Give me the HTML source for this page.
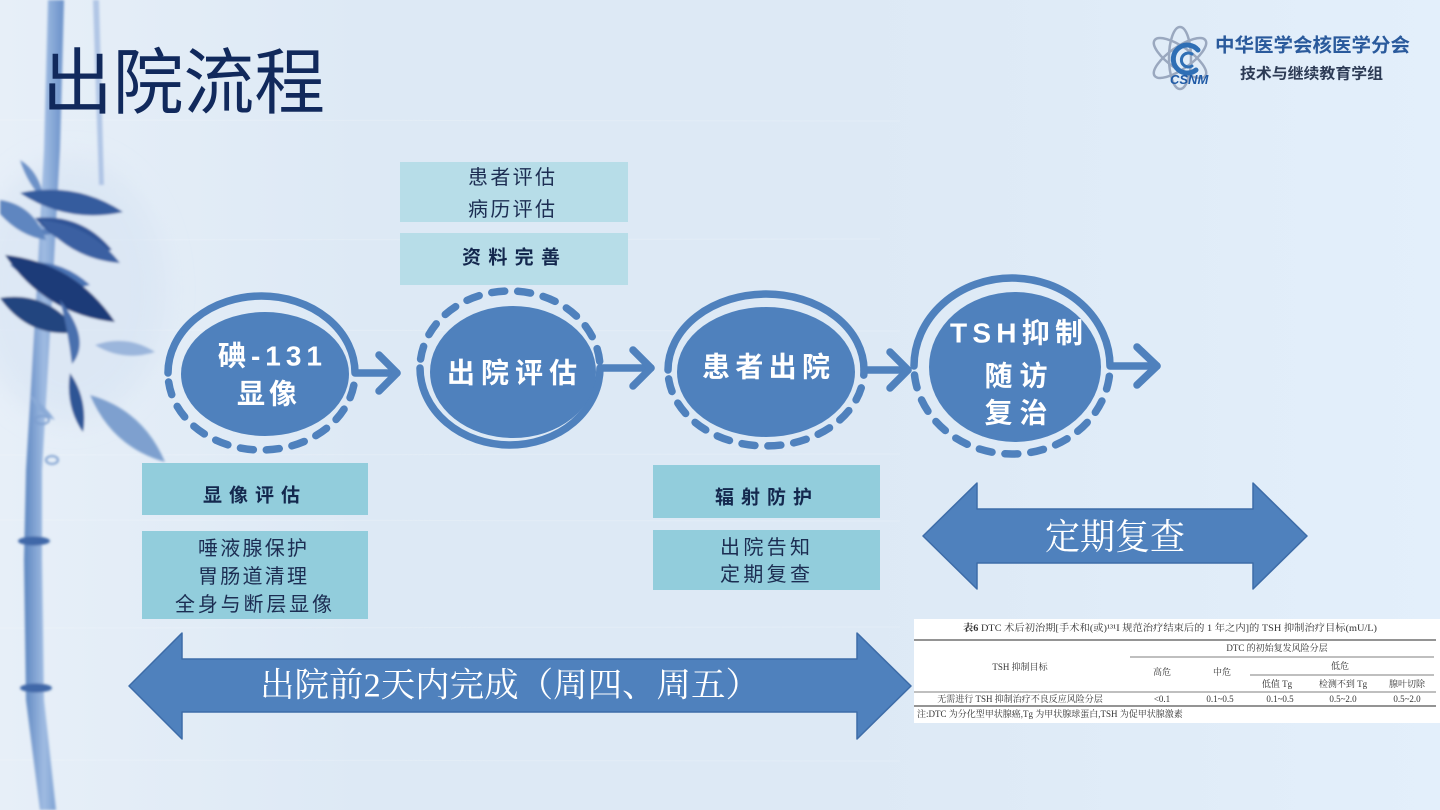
<!DOCTYPE html>
<html lang="zh">
<head>
<meta charset="utf-8">
<title>出院流程</title>
<style>
  html,body{margin:0;padding:0;width:1440px;height:810px;overflow:hidden;background:#e0ecf8;}
  svg{display:block;}
  .sans{font-family:"Liberation Sans","Noto Sans CJK SC",sans-serif;}
  .serif{font-family:"Liberation Serif","Noto Serif CJK SC",serif;}
</style>
</head>
<body>
<svg width="1440" height="810" viewBox="0 0 1440 810" xmlns="http://www.w3.org/2000/svg">
  <defs>
    <linearGradient id="bg" x1="0" y1="0" x2="1" y2="0">
      <stop offset="0" stop-color="#e7eff8"/>
      <stop offset="0.25" stop-color="#dde9f5"/>
      <stop offset="0.6" stop-color="#dde9f5"/>
      <stop offset="1" stop-color="#e3effb"/>
    </linearGradient>
    <linearGradient id="stem" x1="0" y1="0" x2="1" y2="0">
      <stop offset="0" stop-color="#5d86c0"/>
      <stop offset="0.5" stop-color="#9fbbe2"/>
      <stop offset="1" stop-color="#6a91c9"/>
    </linearGradient>
    <filter id="blur1" x="-20%" y="-20%" width="140%" height="140%">
      <feGaussianBlur stdDeviation="1.2"/>
    </filter>
    <filter id="blur8" x="-50%" y="-50%" width="200%" height="200%">
      <feGaussianBlur stdDeviation="14"/>
    </filter>
  </defs>

  <!-- background -->
  <rect x="0" y="0" width="1440" height="810" fill="url(#bg)"/>
  <g opacity="0.18" stroke="#ffffff" stroke-width="1">
    <line x1="0" y1="120" x2="900" y2="121"/>
    <line x1="0" y1="240" x2="880" y2="239"/>
    <line x1="0" y1="330" x2="900" y2="331"/>
    <line x1="0" y1="455" x2="900" y2="454"/>
    <line x1="0" y1="520" x2="900" y2="521"/>
    <line x1="0" y1="628" x2="900" y2="627"/>
    <line x1="0" y1="760" x2="900" y2="761"/>
  </g>

  <!-- bamboo -->
  <g filter="url(#blur1)">
    <ellipse cx="70" cy="290" rx="95" ry="130" fill="#d3e1f2" opacity="0.5" filter="url(#blur8)"/>
    <path d="M93,0 L99,0 L104,185 L99,185 Z" fill="#9bb5de" opacity="0.7"/>
    <path d="M48,0 L64,0 L60,150 L52,300 L42,470 L42,560 L44,700 L56,810 L40,810 L26,700 L24,560 L26,470 L36,300 L44,150 Z" fill="url(#stem)"/>
    <ellipse cx="34" cy="541" rx="16" ry="4.5" fill="#3f68a8"/>
    <ellipse cx="36" cy="688" rx="16" ry="4.5" fill="#3f68a8"/>
    <ellipse cx="42" cy="232" rx="12" ry="3" fill="#5a80bb"/>
    <!-- leaves -->
    <path d="M0,200 Q34,205 46,240 Q20,236 0,214 Z" fill="#5f86c0"/>
    <path d="M20,160 Q40,172 44,200 Q28,185 20,160 Z" fill="#6d92c8"/>
    <path d="M20,193 Q67.5,224 123,212 Q75.5,181 20,193 Z" fill="#355c9e"/>
    <path d="M35,218 Q64.9,254.5 112,250 Q82.1,213.5 35,218 Z" fill="#2d5396"/>
    <path d="M40,220 Q70.6,259.1 120,263 Q89.4,223.9 40,220 Z" fill="#3a61a2"/>
    <path d="M10,265 Q44.7,296.3 90,285 Q55.3,253.7 10,265 Z" fill="#4a72b2"/>
    <path d="M5,255 Q44.7,314.3 115,322 Q75.3,262.7 5,255 Z" fill="#1c3a78"/>
    <path d="M0,298 Q29.4,339.2 78,332 Q48.6,290.8 0,298 Z" fill="#24457f"/>
    <path d="M60,300 Q92,340 72,364 Q68,330 60,300 Z" fill="#4a70ae"/>
    <path d="M95,345 Q123,362 155,352 Q127,334 95,345 Z" fill="#9bb6dc"/>
    <path d="M70,373 Q65,406 83,432 Q88,399 70,373 Z" fill="#2f5595"/>
    <path d="M90,395 Q112,447 165,462 Q143,410 90,395 Z" fill="#7ea0cf"/>
    <path d="M30,395 Q45,405 55,420 Q38,415 30,395 Z" fill="#8aaad7"/>
    <ellipse cx="42" cy="420" rx="7" ry="4" fill="none" stroke="#7d9fcf" stroke-width="2"/>
    <ellipse cx="52" cy="460" rx="6" ry="4" fill="none" stroke="#7d9fcf" stroke-width="2"/>
  </g>

  <!-- title -->
  <text x="183.5" y="84" text-anchor="middle" dominant-baseline="central" class="sans" font-size="72" fill="#11295c" textLength="283" lengthAdjust="spacingAndGlyphs">出院流程</text>

  <!-- logo -->
  <g fill="none" stroke="#9aa8bf" stroke-width="2.5">
    <ellipse cx="1180" cy="58" rx="31" ry="11" transform="rotate(35 1180 58)"/>
    <ellipse cx="1180" cy="58" rx="31" ry="11" transform="rotate(-35 1180 58)"/>
    <ellipse cx="1180" cy="58" rx="31" ry="11" transform="rotate(90 1180 58)"/>
  </g>
  <path d="M1198,50 A14,14 0 1 0 1196,70" fill="none" stroke="#2f6fb5" stroke-width="5" stroke-linecap="round"/>
  <path d="M1192,54 A7,7 0 1 0 1192,66" fill="none" stroke="#2f6fb5" stroke-width="3" stroke-linecap="round"/>
  <text x="1170" y="84" font-family="Liberation Sans, sans-serif" font-style="italic" font-weight="700" font-size="13" fill="#1f5aa6">CSNM</text>
  <text x="1312.5" y="46" text-anchor="middle" dominant-baseline="central" class="sans" font-weight="700" font-size="19" fill="#2a5a9c" textLength="195" lengthAdjust="spacingAndGlyphs">中华医学会核医学分会</text>
  <text x="1311.5" y="74" text-anchor="middle" dominant-baseline="central" class="sans" font-weight="700" font-size="15" fill="#2d3b55" textLength="143" lengthAdjust="spacingAndGlyphs">技术与继续教育学组</text>

  <!-- top boxes -->
  <rect x="400" y="162" width="228" height="60" fill="#b7dde8"/>
  <text x="511.5" y="178" text-anchor="middle" dominant-baseline="central" class="sans" font-size="20" fill="#1c2d52" textLength="87" lengthAdjust="spacing">患者评估</text>
  <text x="511.5" y="210" text-anchor="middle" dominant-baseline="central" class="sans" font-size="20" fill="#1c2d52" textLength="87" lengthAdjust="spacing">病历评估</text>
  <rect x="400" y="233" width="228" height="52" fill="#b7dde8"/>
  <text x="511" y="258" text-anchor="middle" dominant-baseline="central" class="sans" font-weight="700" font-size="19" fill="#14284e" textLength="98" lengthAdjust="spacing">资料完善</text>

  <!-- left boxes -->
  <rect x="142" y="463" width="226" height="52" fill="#92cddc"/>
  <text x="251.5" y="496" text-anchor="middle" dominant-baseline="central" class="sans" font-weight="700" font-size="19" fill="#14284e" textLength="97" lengthAdjust="spacing">显像评估</text>
  <rect x="142" y="531" width="226" height="88" fill="#92cddc"/>
  <text x="252.5" y="549" text-anchor="middle" dominant-baseline="central" class="sans" font-size="20" fill="#1c2d52" textLength="109" lengthAdjust="spacing">唾液腺保护</text>
  <text x="252.5" y="577" text-anchor="middle" dominant-baseline="central" class="sans" font-size="20" fill="#1c2d52" textLength="109" lengthAdjust="spacing">胃肠道清理</text>
  <text x="253.5" y="605" text-anchor="middle" dominant-baseline="central" class="sans" font-size="20" fill="#1c2d52" textLength="157" lengthAdjust="spacing">全身与断层显像</text>

  <!-- middle boxes -->
  <rect x="653" y="465" width="227" height="53" fill="#92cddc"/>
  <text x="763.5" y="498" text-anchor="middle" dominant-baseline="central" class="sans" font-weight="700" font-size="19" fill="#14284e" textLength="97" lengthAdjust="spacing">辐射防护</text>
  <rect x="653" y="530" width="227" height="60" fill="#92cddc"/>
  <text x="765" y="548" text-anchor="middle" dominant-baseline="central" class="sans" font-size="20" fill="#1c2d52" textLength="90" lengthAdjust="spacing">出院告知</text>
  <text x="765" y="575" text-anchor="middle" dominant-baseline="central" class="sans" font-size="20" fill="#1c2d52" textLength="90" lengthAdjust="spacing">定期复查</text>

  <!-- circles -->
  <g fill="none" stroke="#4f81bd" stroke-width="7.5" stroke-linecap="round" stroke-linejoin="round">
    <!-- circle 1 -->
    <path d="M168,373 A93.5,77 0 0 1 355,373 L397,373"/>
    <path d="M379,355 L397,373 L379,391"/>
    <path d="M168,373 A93.5,77 0 0 0 355,373" stroke-dasharray="13 13" stroke-dashoffset="-9"/>
    <!-- circle 2 -->
    <path d="M420,368 A90,77 0 0 0 600,368 L651,368"/>
    <path d="M633,350 L651,368 L633,386"/>
    <path d="M420,368 A90,77 0 0 1 600,368" stroke-dasharray="13 13" stroke-dashoffset="-9"/>
    <!-- circle 3 -->
    <path d="M668,370 A98,76 0 0 1 864,370 L908,370"/>
    <path d="M890,352 L908,370 L890,388"/>
    <path d="M668,370 A98,76 0 0 0 864,370" stroke-dasharray="13 13" stroke-dashoffset="-9"/>
    <!-- circle 4 -->
    <path d="M914,366 A98,88 0 0 1 1110,366 L1157,366"/>
    <path d="M1137,347 L1157,366 L1137,385"/>
    <path d="M914,366 A98,88 0 0 0 1110,366" stroke-dasharray="13 13" stroke-dashoffset="-9"/>
  </g>
  <ellipse cx="265" cy="374" rx="84" ry="62" fill="#4f81bd"/>
  <ellipse cx="513" cy="372" rx="83" ry="66" fill="#4f81bd"/>
  <ellipse cx="766" cy="372" rx="89" ry="65" fill="#4f81bd"/>
  <ellipse cx="1015" cy="367" rx="86" ry="75" fill="#4f81bd"/>

  <g class="sans" font-weight="700" font-size="28" fill="#ffffff" text-anchor="middle" dominant-baseline="central">
    <text x="270" y="356" textLength="104" lengthAdjust="spacing">碘-131</text>
    <text x="267" y="394" textLength="60" lengthAdjust="spacing">显像</text>
    <text x="512" y="373" textLength="130" lengthAdjust="spacing">出院评估</text>
    <text x="766" y="367" textLength="128" lengthAdjust="spacing">患者出院</text>
    <text x="1016.5" y="333" textLength="133" lengthAdjust="spacing">TSH抑制</text>
    <text x="1016" y="376" textLength="63" lengthAdjust="spacing">随访</text>
    <text x="1016" y="413" textLength="63" lengthAdjust="spacing">复治</text>
  </g>

  <!-- double arrows -->
  <polygon points="129,686 182,633 182,659 857,659 857,633 911,686 857,739 857,712 182,712 182,739" fill="#4f81bd" stroke="#3d6ca8" stroke-width="1.5" stroke-linejoin="round"/>
  <text x="510" y="686" text-anchor="middle" dominant-baseline="central" class="serif" font-size="34" fill="#ffffff" textLength="500" lengthAdjust="spacingAndGlyphs">出院前2天内完成（周四、周五）</text>

  <polygon points="923,536 977,483 977,509 1253,509 1253,483 1307,536 1253,589 1253,563 977,563 977,589" fill="#4f81bd" stroke="#3d6ca8" stroke-width="1.5" stroke-linejoin="round"/>
  <text x="1115" y="537" text-anchor="middle" dominant-baseline="central" class="serif" font-size="36" fill="#ffffff" textLength="140" lengthAdjust="spacingAndGlyphs">定期复查</text>

  <!-- table image -->
  <rect x="914" y="619" width="526" height="104" fill="#ffffff"/>
  <g class="serif" font-size="9" fill="#333333" text-anchor="middle" dominant-baseline="central">
    <text x="1170" y="629" font-size="9.5" textLength="414" lengthAdjust="spacingAndGlyphs"><tspan font-weight="700">表6</tspan>  DTC 术后初治期[手术和(或)¹³¹I 规范治疗结束后的 1 年之内]的 TSH 抑制治疗目标(mU/L)</text>
    <text x="1277" y="648">DTC 的初始复发风险分层</text>
    <text x="1020" y="667">TSH 抑制目标</text>
    <text x="1162" y="672">高危</text>
    <text x="1222" y="672">中危</text>
    <text x="1340" y="666">低危</text>
    <text x="1277" y="684">低值 Tg</text>
    <text x="1343" y="684">检测不到 Tg</text>
    <text x="1407" y="684">腺叶切除</text>
    <text x="1020" y="699">无需进行 TSH 抑制治疗不良反应风险分层</text>
    <text x="1162" y="699">&lt;0.1</text>
    <text x="1220" y="699">0.1~0.5</text>
    <text x="1280" y="699">0.1~0.5</text>
    <text x="1343" y="699">0.5~2.0</text>
    <text x="1407" y="699">0.5~2.0</text>
    <text x="917" y="714" text-anchor="start">注:DTC 为分化型甲状腺癌,Tg 为甲状腺球蛋白,TSH 为促甲状腺激素</text>
  </g>
  <g stroke="#555555">
    <line x1="914" y1="640" x2="1436" y2="640" stroke-width="1.3"/>
    <line x1="1130" y1="657" x2="1434" y2="657" stroke-width="0.8"/>
    <line x1="1250" y1="675" x2="1434" y2="675" stroke-width="0.8"/>
    <line x1="914" y1="692" x2="1436" y2="692" stroke-width="0.8"/>
    <line x1="914" y1="706" x2="1436" y2="706" stroke-width="1.3"/>
  </g>
</svg>
</body>
</html>
